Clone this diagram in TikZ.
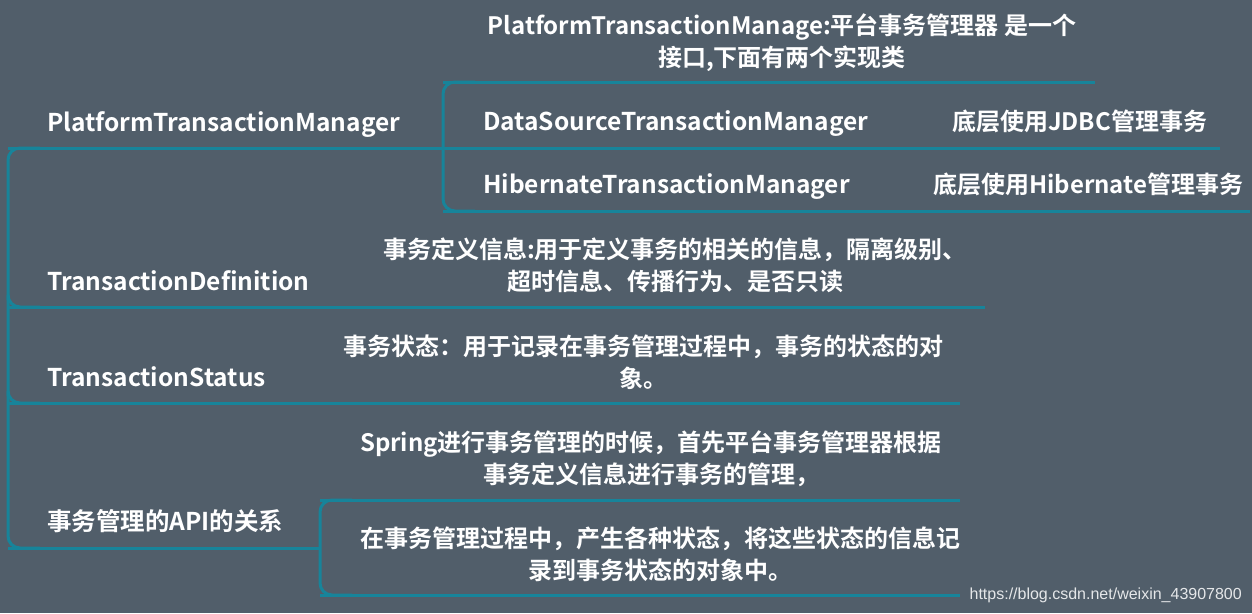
\documentclass[tikz,border=0pt]{standalone}
\usepackage{fontspec}
\setmainfont{Noto Sans CJK SC}[BoldFont={* Bold}]
\newfontfamily\wm{Liberation Sans}
\definecolor{bg}{HTML}{515E6A}
\definecolor{ln}{HTML}{17849A}
\begin{document}
\begin{tikzpicture}[x=1pt,y=-1pt,
  lbl/.style={text=white,font=\bfseries\fontsize{24.5}{28}\selectfont,anchor=base west,inner sep=0},
  sml/.style={text=white,font=\bfseries\fontsize{24}{28}\selectfont,anchor=base west,inner sep=0},
  ctr/.style={text=white,font=\bfseries\fontsize{24}{32}\selectfont,align=center,inner sep=0},
  br/.style={draw=ln,line width=3pt,rounded corners=12pt}]
\fill[bg] (0,0) rectangle (1252,613);
\useasboundingbox (0,0) rectangle (1252,613);
% main bracket
\draw[br] (40,148) -- (8,148) -- (8,548) -- (40,548);
\draw[br] (8,300) |- (40,307);
\draw[br] (8,396) |- (40,403);
\coordinate (r0) at (8,148);
\draw[ln,line width=3pt] (r0) -- (440,148);
\draw[ln,line width=3pt] (8,307) -- (985,307);
\draw[ln,line width=3pt] (8,403) -- (960,403);
\draw[ln,line width=3pt] (8,548) -- (320,548);
\node[lbl] (ptm) at (47,131) {PlatformTransactionManager};
\node[lbl] (td) at (47,290) {TransactionDefinition};
\node[lbl] (ts) at (47,386) {TransactionStatus};
\node[lbl] (api) at (47,530) {事务管理的API的关系};
% PTM children
\draw[br] (475,82) -- (443,82) -- (443,211) -- (475,211);
\draw[ln,line width=3pt] (440,148) -- (880,148) -- (1220,148);
\draw[ln,line width=3pt] (443,82) -- (1095,82);
\draw[ln,line width=3pt] (443,211) -- (865,211) -- (1250,211);
\node[ctr] (desc) at (782,43) {PlatformTransactionManage:平台事务管理器 是一个\\接口,下面有两个实现类};
\node[lbl] (ds) at (483,130) {DataSourceTransactionManager};
\node[lbl] (ht) at (483,193) {HibernateTransactionManager};
\node[sml] (jdbc) at (952,130) {底层使用JDBC管理事务};
\node[sml] (hib) at (933,193) {底层使用Hibernate管理事务};
\node[ctr] (tdd) at (675,265) {事务定义信息:用于定义事务的相关的信息，隔离级别、\\超时信息、传播行为、是否只读};
\node[ctr] (tsd) at (643,362) {事务状态：用于记录在事务管理过程中，事务的状态的对\\象。};
% API children
\draw[br] (352,500) -- (320,500) -- (320,595) -- (352,595);
\draw[ln,line width=3pt] (320,500) -- (960,500);
\draw[ln,line width=3pt] (320,595) -- (960,595);
\node[ctr] (a1) at (651,459) {Spring进行事务管理的时候，首先平台事务管理器根据\\事务定义信息进行事务的管理，};
\node[ctr] (a2) at (660,554) {在事务管理过程中，产生各种状态，将这些状态的信息记\\录到事务状态的对象中。};
\node[text=white!85!bg,font=\wm\fontsize{16}{18}\selectfont,anchor=base east,inner sep=0] (url) at (1242,599) {https://blog.csdn.net/weixin\_43907800};
\end{tikzpicture}
\end{document}
